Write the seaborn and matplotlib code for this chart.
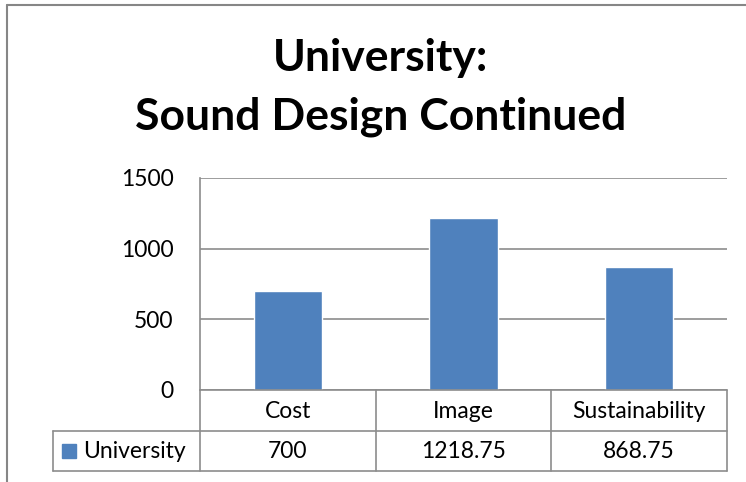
import matplotlib
matplotlib.use("Agg")
import matplotlib.pyplot as plt
import matplotlib.transforms as mtransforms
from matplotlib.lines import Line2D
from matplotlib.patches import Rectangle
import seaborn as sns

# Chart data
categories = ["Cost", "Image", "Sustainability"]
values = [700, 1218.75, 868.75]
series_name = "University"
y_ticks = [0, 500, 1000, 1500]
title_lines = ["University:", "Sound Design Continued"]

BAR_COLOR = "#4F81BD"
GRID_COLOR = "#8C8C8C"
FONT = ["Lato", "DejaVu Sans"]
LABEL_SIZE = 16.5

sns.set_theme(style="white")
plt.rcParams["font.family"] = FONT

W, H = 746, 482
fig = plt.figure(figsize=(W / 100, H / 100), dpi=100)
fig.patch.set_facecolor("white")

# plot area in pixel coordinates
px_left, px_right, px_top, px_bottom = 200, 727, 178, 390
ax = fig.add_axes([px_left / W, 1 - px_bottom / H,
                   (px_right - px_left) / W, (px_bottom - px_top) / H])

sns.barplot(x=categories, y=values, color=BAR_COLOR, width=0.39,
            saturation=1, ax=ax, zorder=3)
ax.set_xlim(-0.5, len(categories) - 0.5)
ax.set_ylim(y_ticks[0], y_ticks[-1])
ax.set_yticks(y_ticks)
ax.set_yticklabels([str(t) for t in y_ticks], fontsize=LABEL_SIZE, color="black")
ax.tick_params(axis="y", length=0, pad=19)
ax.set_xticks([])
ax.set_xlabel("")
ax.set_ylabel("")
ax.yaxis.grid(True, color=GRID_COLOR, linewidth=1.2, zorder=0)
ax.set_axisbelow(True)
for side in ["top", "right", "bottom"]:
    ax.spines[side].set_visible(False)
ax.spines["left"].set_color(GRID_COLOR)
ax.spines["left"].set_linewidth(1.2)

# data table under the axis
ph = px_bottom - px_top
pw = px_right - px_left
row1 = -(431 - px_bottom) / ph
row2 = -(471 - px_bottom) / ph
leg_left = (53 - px_left) / pw

axes_tr = ax.transAxes
blend = mtransforms.blended_transform_factory(ax.transData, ax.transAxes)
line_kw = dict(color=GRID_COLOR, linewidth=1.2, clip_on=False, zorder=4)

ax.add_line(Line2D([0, 1], [0, 0], transform=axes_tr, **line_kw))
ax.add_line(Line2D([leg_left, 1], [row1, row1], transform=axes_tr, **line_kw))
ax.add_line(Line2D([leg_left, 1], [row2, row2], transform=axes_tr, **line_kw))
ax.add_line(Line2D([0, 0], [0, row2], transform=axes_tr, **line_kw))
ax.add_line(Line2D([leg_left, leg_left], [row1, row2], transform=axes_tr, **line_kw))
for i in range(len(categories)):
    xb = i + 0.5
    ax.add_line(Line2D([xb, xb], [0, row2], transform=blend, **line_kw))

for i, (cat, val) in enumerate(zip(categories, values)):
    ax.text(i, row1 / 2 - 0.005, cat, transform=blend, ha="center", va="center",
            fontsize=LABEL_SIZE, color="black", clip_on=False)
    ax.text(i, (row1 + row2) / 2, f"{val:g}", transform=blend, ha="center",
            va="center", fontsize=LABEL_SIZE, color="black", clip_on=False)

# legend key inside the table
key_x = (62 - px_left) / pw
key_w = 14 / pw
key_h = 14 / ph
ymid = (row1 + row2) / 2
ax.add_patch(Rectangle((key_x, ymid - key_h / 2), key_w, key_h,
                       transform=axes_tr, color=BAR_COLOR, clip_on=False))
ax.text((83 - px_left) / pw, ymid, series_name, transform=axes_tr,
        ha="left", va="center", fontsize=LABEL_SIZE, color="black", clip_on=False)

# title
fig.text(381 / W, 1 - 58 / H, title_lines[0], ha="center", va="center",
         fontsize=32, fontweight="bold", color="black")
fig.text(381 / W, 1 - 117 / H, title_lines[1], ha="center", va="center",
         fontsize=32, fontweight="bold", color="black")

# chart area border
fig.add_artist(Line2D([7 / W, 7 / W], [0, 1 - 5 / H], transform=fig.transFigure,
                      color="#868686", linewidth=1.5))
fig.add_artist(Line2D([7 / W, 1], [1 - 5 / H, 1 - 5 / H], transform=fig.transFigure,
                      color="#868686", linewidth=1.5))

fig.savefig("out.png", dpi=100, facecolor="white")
